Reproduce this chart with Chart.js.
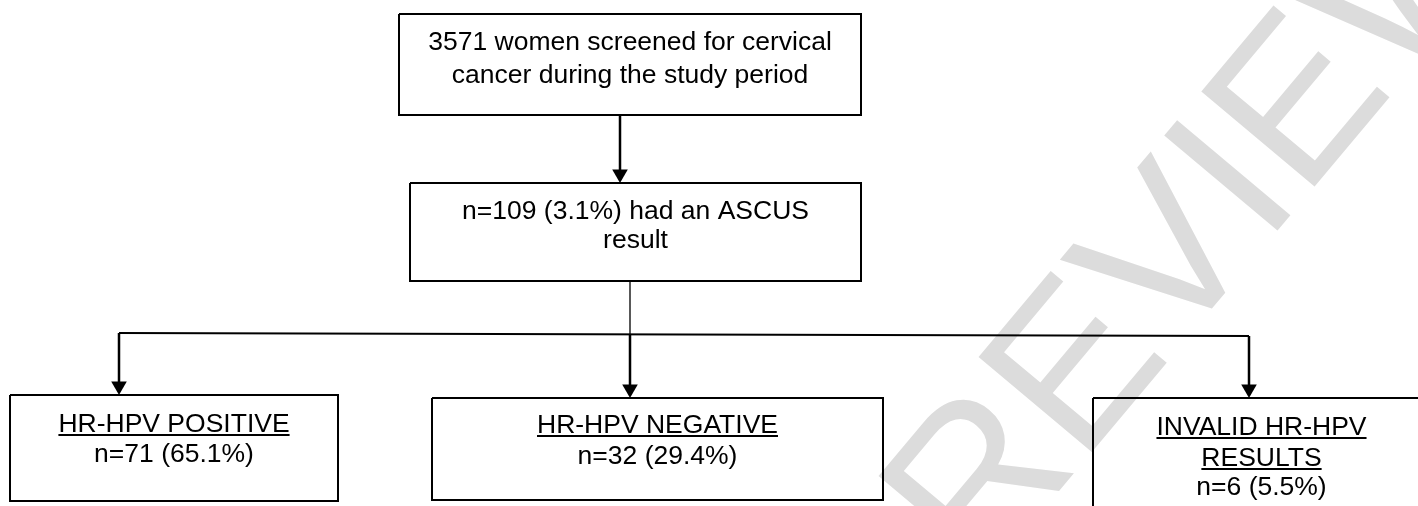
<!DOCTYPE html>
<html>
<head>
<meta charset="utf-8">
<script src="https://cdn.jsdelivr.net/npm/chart.js@4.4.1/dist/chart.umd.min.js"></script>
<style>
html, body { margin: 0; padding: 0; background: #fff; }
#wrap { width: 1418px; height: 506px; }
</style>
</head>
<body>
<div id="wrap"><canvas id="myChart" width="1418" height="506"></canvas></div>
<script>
// flow chart boxes (page units, y goes down)
var boxLeft   = [399, 410, 10, 432, 1093];
var boxRight  = [861, 861, 338, 883, 1430];
var boxTop    = [14, 183, 395, 398, 398];
var boxBottom = [115, 281, 501, 500, 540];
var boxLines  = [
    ['3571 women screened for cervical', 'cancer during the study period'],
    ['n=109 (3.1%) had an ASCUS', 'result'],
    ['HR-HPV POSITIVE', 'n=71 (65.1%)'],
    ['HR-HPV NEGATIVE', 'n=32 (29.4%)'],
    ['INVALID HR-HPV', 'RESULTS', 'n=6 (5.5%)']
];
var lineBaselines = [[50, 83], [219, 248], [432, 462], [433, 464], [435, 466, 495]];
var underlinedLines = [0, 0, 1, 1, 2]; // how many first lines are underlined

// arrows (x, start y, tip y)
var arrowX    = [620, 119, 630, 1249];
var arrowFrom = [115, 333, 334, 336];
var arrowTip  = [183, 395, 398, 398];

// thin connectors without a head
var dropX = 630, dropFrom = 281, dropTo = 334;          // from the ASCUS box down
var splitX = [119, 1249], splitY = [333, 336];          // the long horizontal line

var watermark = 'S REVIEW';

var HEAD = 9; // triangle point radius

var datasets = [];
for (var i = 0; i < boxLeft.length; i++) {
    datasets.push({
        data: [
            {x: boxLeft[i], y: boxTop[i]}, {x: boxRight[i], y: boxTop[i]},
            {x: boxRight[i], y: boxBottom[i]}, {x: boxLeft[i], y: boxBottom[i]},
            {x: boxLeft[i], y: boxTop[i]}
        ],
        showLine: true, borderColor: '#000', borderWidth: 2, pointRadius: 0, tension: 0
    });
}
for (var j = 0; j < arrowX.length; j++) {
    datasets.push({
        data: [{x: arrowX[j], y: arrowFrom[j]}, {x: arrowX[j], y: arrowTip[j] - HEAD}],
        showLine: true, borderColor: '#000', borderWidth: 2.5, pointRadius: 0
    });
}
datasets.push({
    data: [{x: dropX, y: dropFrom}, {x: dropX, y: dropTo}],
    showLine: true, borderColor: '#000', borderWidth: 1.3, pointRadius: 0
});
datasets.push({
    data: [{x: splitX[0], y: splitY[0]}, {x: splitX[1], y: splitY[1]}],
    showLine: true, borderColor: '#000', borderWidth: 2, pointRadius: 0
});
// arrow heads
datasets.push({
    data: arrowX.map(function (x, k) { return {x: x, y: arrowTip[k] - HEAD}; }),
    showLine: false, pointStyle: 'triangle', rotation: 180, pointRadius: HEAD,
    pointBackgroundColor: '#000', pointBorderWidth: 0
});

var textPlugin = {
    id: 'boxText',
    beforeDatasetsDraw: function (chart) {
        var ctx = chart.ctx, xs = chart.scales.x, ys = chart.scales.y;
        var p0 = {x: xs.getPixelForValue(850), y: ys.getPixelForValue(740)};
        ctx.save();
        ctx.translate(p0.x, p0.y);
        ctx.rotate(-50 * Math.PI / 180);
        ctx.font = '215px "Liberation Sans", Arial, sans-serif';
        ctx.fillStyle = '#dcdcdc';
        ctx.fillText(watermark, 0, 0);
        ctx.restore();
    },
    afterDatasetsDraw: function (chart) {
        var ctx = chart.ctx, xs = chart.scales.x, ys = chart.scales.y;
        ctx.save();
        ctx.font = '26.5px "Liberation Sans", Arial, sans-serif';
        ctx.fillStyle = '#000';
        ctx.strokeStyle = '#000';
        ctx.textAlign = 'center';
        ctx.textBaseline = 'alphabetic';
        for (var i = 0; i < boxLines.length; i++) {
            var cx = xs.getPixelForValue((boxLeft[i] + boxRight[i]) / 2);
            for (var k = 0; k < boxLines[i].length; k++) {
                var y = ys.getPixelForValue(lineBaselines[i][k]);
                ctx.fillText(boxLines[i][k], cx, y);
                if (k < underlinedLines[i]) {
                    var w = ctx.measureText(boxLines[i][k]).width;
                    ctx.lineWidth = 2;
                    ctx.beginPath();
                    ctx.moveTo(cx - w / 2, y + 3);
                    ctx.lineTo(cx + w / 2, y + 3);
                    ctx.stroke();
                }
            }
        }
        ctx.restore();
    }
};

var ctx = document.getElementById('myChart');
new Chart(ctx, {
    type: 'scatter',
    data: { datasets: datasets },
    options: {
        responsive: false,
        animation: false,
        events: [],
        layout: { padding: 0, autoPadding: false },
        plugins: { legend: { display: false }, tooltip: { enabled: false } },
        scales: {
            x: { type: 'linear', min: 0, max: 1418, display: false },
            y: { type: 'linear', min: 0, max: 506, reverse: true, display: false }
        }
    },
    plugins: [textPlugin]
});
</script>
</body>
</html>
